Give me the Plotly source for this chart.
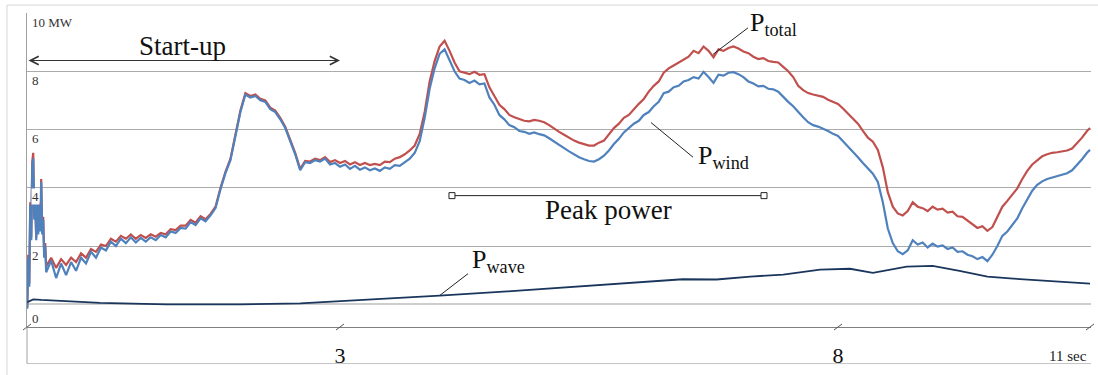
import plotly.graph_objects as go

# ---------------- data ----------------
# time in seconds (axis: "3" and "8" tick marks)
time_early = [-0.14, -0.13, -0.12, -0.11, -0.10, -0.09, -0.08, -0.07, -0.06, -0.05,
              -0.04, -0.03, -0.02, -0.01, 0.00, 0.01, 0.02, 0.03, 0.04]
time_main = [
    0.05, 0.10, 0.15, 0.20, 0.25, 0.30, 0.35, 0.40, 0.45, 0.50,
    0.55, 0.60, 0.65, 0.70, 0.75, 0.80, 0.85, 0.90, 0.95, 1.00,
    1.05, 1.10, 1.15, 1.20, 1.25, 1.30, 1.35, 1.40, 1.45, 1.50,
    1.55, 1.60, 1.65, 1.70, 1.75, 1.80, 1.85, 1.90, 1.95, 2.00,
    2.05, 2.10, 2.15, 2.20, 2.25, 2.30, 2.35, 2.40, 2.45, 2.50,
    2.55, 2.60, 2.65, 2.70, 2.75, 2.80, 2.85, 2.90, 2.95, 3.00,
    3.05, 3.10, 3.15, 3.20, 3.25, 3.30, 3.35, 3.40, 3.45, 3.50,
    3.55, 3.60, 3.65, 3.70, 3.75, 3.80, 3.85, 3.90, 3.95, 4.00,
    4.05, 4.10, 4.15, 4.20, 4.25, 4.30, 4.35, 4.40, 4.45, 4.50,
    4.55, 4.60, 4.65, 4.70, 4.75, 4.80, 4.85, 4.90, 4.95, 5.00,
    5.05, 5.10, 5.15, 5.20, 5.25, 5.30, 5.35, 5.40, 5.45, 5.50,
    5.55, 5.60, 5.65, 5.70, 5.75, 5.80, 5.85, 5.90, 5.95, 6.00,
    6.05, 6.10, 6.15, 6.20, 6.25, 6.30, 6.35, 6.40, 6.45, 6.50,
    6.55, 6.60, 6.65, 6.70, 6.75, 6.80, 6.85, 6.90, 6.95, 7.00,
    7.05, 7.10, 7.15, 7.20, 7.25, 7.30, 7.35, 7.40, 7.45, 7.50,
    7.55, 7.60, 7.65, 7.70, 7.75, 7.80, 7.85, 7.90, 7.95, 8.00,
    8.05, 8.10, 8.15, 8.20, 8.25, 8.30, 8.35, 8.40, 8.45, 8.50,
    8.55, 8.60, 8.65, 8.70, 8.75, 8.80, 8.85, 8.90, 8.95, 9.00,
    9.05, 9.10, 9.15, 9.20, 9.25, 9.30, 9.35, 9.40, 9.45, 9.50,
    9.55, 9.60, 9.65, 9.70, 9.75, 9.80, 9.85, 9.90, 9.95, 10.00,
    10.05, 10.10, 10.15, 10.20, 10.25, 10.30, 10.35, 10.40, 10.45, 10.50,
    10.53]

# P_wind (MW)
wind_early = [-0.15, 1.6, 0.6, 3.4, 2.2, 4.7, 5.0, 2.9, 3.5, 2.2,
              3.5, 2.4, 3.4, 2.5, 4.2, 2.4, 2.9, 1.6, 2.0]
wind_main = [
    1.1, 1.5, 0.9, 1.4, 1.0, 1.45, 1.15, 1.6, 1.4, 1.8,
    1.6, 1.95, 1.85, 2.15, 2.0, 2.25, 2.1, 2.3, 2.12, 2.28,
    2.15, 2.3, 2.2, 2.38, 2.3, 2.5, 2.45, 2.62, 2.6, 2.82,
    2.72, 2.95, 2.85, 3.05, 3.3, 3.95, 4.5, 4.95, 5.8, 6.6,
    7.2, 7.1, 7.15, 7.0, 6.95, 6.7, 6.6, 6.35, 6.05, 5.6,
    5.15, 4.6, 4.88, 4.85, 4.95, 4.9, 5.0, 4.8, 4.85, 4.72,
    4.8, 4.65, 4.75, 4.62, 4.7, 4.6, 4.66, 4.58, 4.7, 4.65,
    4.78, 4.75, 4.88, 5.0, 5.2, 5.6, 6.4, 7.4, 8.1, 8.6,
    8.75, 8.4, 8.0, 7.75, 7.7, 7.6, 7.68, 7.55, 7.58, 7.1,
    6.85, 6.5, 6.35, 6.15, 6.08, 5.95, 5.92, 5.85, 5.9, 5.84,
    5.8, 5.7, 5.58, 5.45, 5.36, 5.25, 5.15, 5.05, 4.98, 4.92,
    4.9, 4.98, 5.1, 5.28, 5.5, 5.68, 5.9, 6.05, 6.2, 6.3,
    6.5, 6.6, 6.8, 6.95, 7.25, 7.3, 7.45, 7.5, 7.65, 7.7,
    7.8, 7.75, 7.98, 7.8, 7.6, 7.88, 7.85, 7.95, 7.97, 7.9,
    7.8, 7.65, 7.58, 7.48, 7.5, 7.4, 7.38, 7.3, 7.12, 6.95,
    6.8, 6.6, 6.42, 6.25, 6.15, 6.1, 6.03, 5.95, 5.85, 5.78,
    5.6, 5.42, 5.25, 5.05, 4.85, 4.65, 4.48, 4.2, 3.5, 2.6,
    2.1, 1.82, 1.72, 1.85, 2.2, 2.05, 2.12, 1.95, 2.08, 1.98,
    2.02, 1.9, 1.95, 1.8, 1.82, 1.7, 1.65, 1.55, 1.62, 1.48,
    1.7, 2.0, 2.35, 2.5, 2.72, 2.95, 3.3, 3.62, 3.9, 4.1,
    4.22, 4.3, 4.35, 4.4, 4.45, 4.5, 4.6, 4.78, 4.98, 5.2,
    5.3]

# P_total (MW)
total_early = [-0.1, 1.7, 0.7, 3.5, 2.3, 4.9, 5.2, 3.0, 3.6, 2.3,
               3.6, 2.5, 3.5, 2.6, 4.3, 2.5, 3.0, 1.7, 2.1]
total_main = [
    1.3, 1.6, 1.25, 1.55, 1.35, 1.6, 1.45, 1.75, 1.6, 1.9,
    1.8, 2.05, 2.0, 2.25, 2.15, 2.35, 2.25, 2.4, 2.25, 2.38,
    2.28, 2.4, 2.32, 2.45, 2.4, 2.58, 2.55, 2.7, 2.7, 2.9,
    2.8, 3.02, 2.92, 3.1, 3.35, 4.0, 4.55, 5.0, 5.85, 6.65,
    7.25, 7.15, 7.2, 7.05, 7.0, 6.75, 6.65, 6.4, 6.1, 5.65,
    5.2, 4.65, 4.92, 4.9, 5.0, 4.95, 5.05, 4.88, 4.95, 4.85,
    4.92, 4.8, 4.88, 4.78, 4.85, 4.78, 4.82, 4.78, 4.9, 4.88,
    5.0, 5.05, 5.15, 5.28, 5.45, 5.85, 6.6, 7.65, 8.35, 8.85,
    9.05, 8.7, 8.3, 8.0, 7.95, 7.9, 7.98, 7.88, 7.9, 7.45,
    7.15, 6.85, 6.7, 6.5, 6.42, 6.35, 6.3, 6.28, 6.33, 6.3,
    6.25, 6.15, 6.02, 5.92, 5.82, 5.72, 5.62, 5.55, 5.5, 5.45,
    5.45, 5.55, 5.62, 5.85, 6.05, 6.2, 6.4, 6.5, 6.7, 6.88,
    7.05, 7.3, 7.5, 7.65, 7.95, 8.1, 8.2, 8.3, 8.42, 8.5,
    8.7, 8.62, 8.85, 8.7, 8.48, 8.75, 8.7, 8.8, 8.85, 8.78,
    8.68, 8.62, 8.5, 8.42, 8.45, 8.35, 8.32, 8.3, 8.15, 8.0,
    7.8, 7.5, 7.35, 7.25, 7.2, 7.15, 7.12, 7.02, 6.95, 6.88,
    6.72, 6.55, 6.4, 6.2, 5.95, 5.72, 5.58, 5.3, 4.7, 3.85,
    3.35, 3.12, 3.05, 3.2, 3.5, 3.35, 3.3, 3.2, 3.35, 3.25,
    3.28, 3.15, 3.18, 3.02, 3.0, 2.88, 2.75, 2.62, 2.68, 2.52,
    2.65, 3.0, 3.35, 3.55, 3.75, 3.98, 4.3, 4.58, 4.8, 4.95,
    5.08, 5.15, 5.2, 5.22, 5.25, 5.28, 5.35, 5.52, 5.72, 5.95,
    6.05]

# P_wave (MW), smooth
wave_time = [-0.14, -0.08, 0.0, 0.29, 0.59, 1.26, 2.0, 2.6, 3.0, 3.33, 4.0, 4.68, 5.34,
             5.74, 6.11, 6.44, 6.78, 7.12, 7.45, 7.82, 8.12, 8.35, 8.69, 8.95, 9.22,
             9.5, 9.76, 10.1, 10.53]
wave_power = [0.07, 0.17, 0.15, 0.1, 0.05, 0.0, 0.0, 0.03, 0.1, 0.17, 0.3, 0.44, 0.6,
              0.7, 0.78, 0.86, 0.85, 0.95, 1.02, 1.19, 1.22, 1.08, 1.29, 1.32, 1.15,
              0.95, 0.88, 0.81, 0.71]

x_ticks = [3, 8]
x_tick_text = ["3", "8"]
y_ticks = [0, 2, 4, 6, 8, 10]
y_tick_text = ["0", "2", "4", "6", "8", "10 MW"]

time_s = time_early + time_main
p_wind = wind_early + wind_main
p_total = total_early + total_main
assert len(time_s) == len(p_wind) == len(p_total), (len(time_s), len(p_wind), len(p_total))
assert len(wave_time) == len(wave_power)

# ---------------- figure ----------------
SERIF = "Liberation Serif, Times New Roman, serif"
RED = "#C0504D"
BLUE = "#4F81BD"
NAVY = "#1B365D"
X_MIN, X_MAX = -0.1426, 10.540
Y_MIN, Y_MAX = -0.78, 10.0

fig = go.Figure()
fig.add_trace(go.Scatter(x=time_s, y=p_total, mode="lines", name="P total",
                         line=dict(color=RED, width=2.2)))
fig.add_trace(go.Scatter(x=time_s, y=p_wind, mode="lines", name="P wind",
                         line=dict(color=BLUE, width=2.2)))
fig.add_trace(go.Scatter(x=wave_time, y=wave_power, mode="lines", name="P wave",
                         line=dict(color=NAVY, width=1.8)))

fig.update_layout(
    width=1098, height=375,
    margin=dict(l=27, r=7, t=13, b=44),
    showlegend=False,
    plot_bgcolor="white", paper_bgcolor="white",
    font=dict(family=SERIF, color="#222"),
)
fig.update_xaxes(
    range=[X_MIN, X_MAX], tickvals=x_ticks, ticktext=x_tick_text,
    showgrid=False, zeroline=False, showline=True, linecolor="#7F7F7F", linewidth=1,
    ticks="", tickfont=dict(family=SERIF, size=22, color="#111"), ticklabelstandoff=9,
)
fig.update_yaxes(
    range=[Y_MIN, Y_MAX], tickvals=y_ticks, showticklabels=False,
    showgrid=True, gridcolor="#ABABAB", gridwidth=1,
    zeroline=True, zerolinecolor="#CDCDCD", zerolinewidth=2,
    showline=True, linecolor="#A0A0A0", linewidth=1,
)

ann = []
# y labels placed just under each gridline
for v, txt in zip(y_ticks, y_tick_text):
    ann.append(dict(x=0, xref="paper", xanchor="left", xshift=4,
                    y=v, yref="y", yanchor="middle", yshift=-14 if v == 0 else -9,
                    text=txt, showarrow=False, bgcolor="white", borderpad=0,
                    font=dict(family=SERIF, size=13, color="#333")))
# "11 sec" axis-end label
ann.append(dict(x=1, xref="paper", xanchor="right", xshift=-2, y=-0.092, yref="paper",
                yanchor="middle", text="11 sec", showarrow=False,
                font=dict(family=SERIF, size=15, color="#222")))
# Start-up double arrow
ann.append(dict(x=3.0, y=8.37, ax=X_MIN, ay=8.37, xref="x", yref="y", axref="x", ayref="y",
                text="", showarrow=True, arrowhead=5, startarrowhead=5, arrowside="end+start",
                arrowsize=1.5, startarrowsize=1.5, arrowwidth=1.1, arrowcolor="#333"))
ann.append(dict(x=1.414, y=8.88, xref="x", yref="y", text="Start-up", showarrow=False,
                font=dict(family=SERIF, size=27, color="#111")))
ann.append(dict(x=5.691, y=3.25, xref="x", yref="y", text="Peak power", showarrow=False,
                font=dict(family=SERIF, size=27, color="#111")))
# series labels
ann.append(dict(x=7.096, y=1.022, xref="x", yref="paper", xanchor="left", yanchor="top",
                text="P<sub>total</sub>", showarrow=False,
                font=dict(family=SERIF, size=26, color="#111")))
ann.append(dict(x=6.574, y=5.66, xref="x", yref="y", xanchor="left", yanchor="top",
                text="P<sub>wind</sub>", showarrow=False,
                font=dict(family=SERIF, size=26, color="#111")))
ann.append(dict(x=4.305, y=2.10, xref="x", yref="y", xanchor="left", yanchor="top",
                text="P<sub>wave</sub>", showarrow=False,
                font=dict(family=SERIF, size=26, color="#111")))
fig.update_layout(annotations=ann)

shapes = []
# slash tick marks on the time axis (axis start, 3, 8, axis end)
for tv in [X_MIN, 3, 8, 10.53]:
    xp = (tv - X_MIN) / (X_MAX - X_MIN)
    shapes.append(dict(type="line", xref="paper", yref="paper",
                       xsizemode="pixel", ysizemode="pixel", xanchor=xp, yanchor=0,
                       x0=-4, x1=4, y0=-3, y1=3, line=dict(color="#555", width=1)))
# leader lines
for (x0, y0, x1, y1) in [(7.096, 9.49, 6.745, 8.58),
                         (6.122, 6.24, 6.544, 5.05),
                         (4.004, 0.31, 4.285, 1.05)]:
    shapes.append(dict(type="line", xref="x", yref="y", x0=x0, y0=y0, x1=x1, y1=y1,
                       line=dict(color="#222", width=1)))
# peak power bracket
shapes.append(dict(type="line", xref="x", yref="y", x0=4.124, y0=3.73, x1=7.257, y1=3.73,
                   line=dict(color="#222", width=1)))
for xe in [4.124, 7.257]:
    shapes.append(dict(type="rect", xref="x", yref="y", xsizemode="pixel", ysizemode="pixel",
                       xanchor=xe, yanchor=3.73, x0=-3, x1=3, y0=-3, y1=3,
                       fillcolor="white", line=dict(color="#222", width=1)))
# label box below the axis and outer frame
shapes.append(dict(type="line", xref="paper", yref="paper", x0=0, x1=1, y0=-0.1164, y1=-0.1164,
                   line=dict(color="#C4C4C4", width=1)))
shapes.append(dict(type="line", xref="paper", yref="paper", x0=0, x1=0, y0=-0.1164, y1=0,
                   line=dict(color="#A0A0A0", width=1)))
shapes.append(dict(type="rect", xref="paper", yref="paper", x0=-0.0188, x1=1.05, y0=-0.3,
                   y1=1.0252, line=dict(color="#D6D6D6", width=1)))
fig.update_layout(shapes=shapes)

fig.write_html("out.html", config={"displayModeBar": False},
               post_script="document.body.style.margin='0';document.body.style.overflow='hidden';")
